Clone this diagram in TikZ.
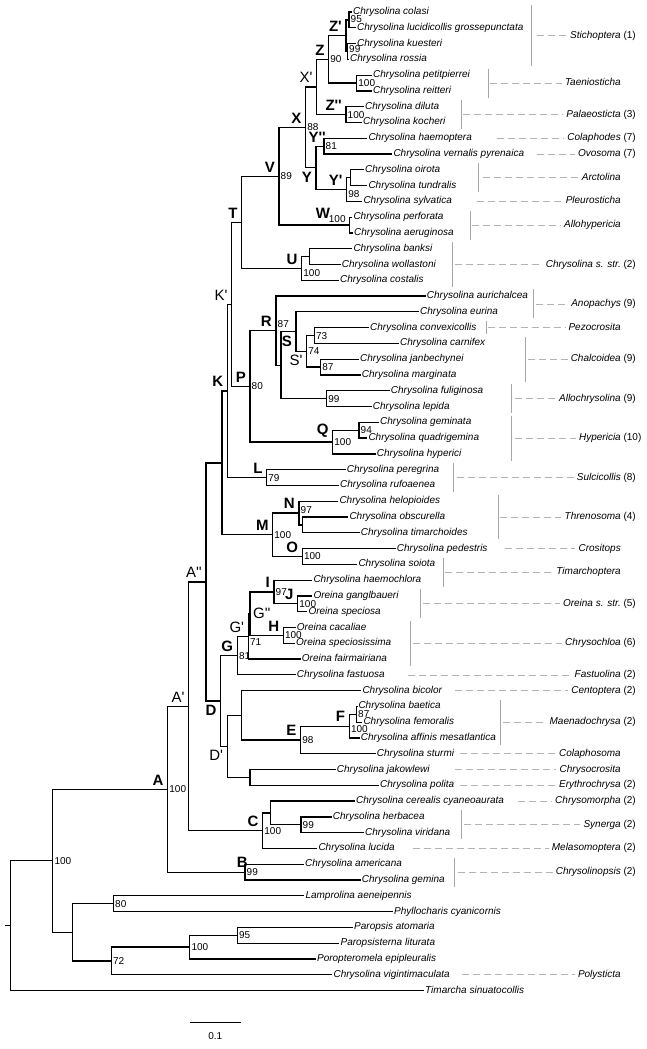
\documentclass[tikz,border=0pt]{standalone}
\usepackage{fontspec}
\setmainfont{Liberation Sans}
\usetikzlibrary{positioning}
\newcommand{\pq}{\textquotesingle}

\begin{document}
\begin{tikzpicture}[x=1pt,y=-15.782pt,
  br/.style={line width=1.25pt},
  taxon/.style={anchor=west,inner xsep=1pt,inner ysep=0pt,text height=7pt,text depth=2pt,
                font=\fontsize{10}{12}\selectfont\itshape},
  boot/.style={anchor=west,inner xsep=1.5pt,inner ysep=0pt,text height=7pt,text depth=0pt,
               font=\fontsize{10}{12}\selectfont},
  clade/.style={anchor=south east,inner sep=0pt,xshift=-4pt,yshift=4pt,
                font=\fontsize{15}{15}\selectfont\bfseries},
  cladeb/.style={clade,anchor=north east,yshift=-8pt},
  prime/.style={clade,font=\fontsize{15}{15}\selectfont},
  primeb/.style={cladeb,font=\fontsize{15}{15}\selectfont},
  grp/.style={anchor=east,inner xsep=0pt,inner ysep=1pt,text height=7pt,text depth=2pt,
              font=\fontsize{10}{12}\selectfont},
  bar/.style={gray!70,line width=0.6pt},
  dsh/.style={gray!60,line width=0.7pt,dash pattern=on 7pt off 4pt}]
  \useasboundingbox (0,0.23964) rectangle (647,66.7075);

  \foreach \i/\x/\nm in {1/353/Chrysolina colasi, 2/357/Chrysolina lucidicollis grossepunctata,
      3/357/Chrysolina kuesteri, 4/350/Chrysolina rossia, 5/373/Chrysolina petitpierrei,
      6/373/Chrysolina reitteri, 7/365/Chrysolina diluta, 8/363/Chrysolina kocheri,
      9/368.3/Chrysolina haemoptera, 10/393.3/Chrysolina vernalis pyrenaica,
      11/365/Chrysolina oirota, 12/368.3/Chrysolina tundralis, 13/363.3/Chrysolina sylvatica,
      14/353.3/Chrysolina perforata, 15/354/Chrysolina aeruginosa, 16/353.3/Chrysolina banksi,
      17/341.7/Chrysolina wollastoni, 18/340/Chrysolina costalis, 19/426.7/Chrysolina aurichalcea,
      20/420/Chrysolina eurina, 21/370/Chrysolina convexicollis, 22/400/Chrysolina carnifex,
      23/360/Chrysolina janbechynei, 24/361.7/Chrysolina marginata, 25/390.7/Chrysolina fuliginosa,
      26/372.7/Chrysolina lepida, 27/380/Chrysolina geminata, 28/368.3/Chrysolina quadrigemina,
      29/376.7/Chrysolina hyperici, 30/346.7/Chrysolina peregrina, 31/340/Chrysolina rufoaenea,
      32/339.3/Chrysolina helopioides, 33/349.3/Chrysolina obscurella,
      34/360.7/Chrysolina timarchoides, 35/396.7/Chrysolina pedestris, 36/358.3/Chrysolina soiota,
      37/313.3/Chrysolina haemochlora, 38/313.3/Oreina ganglbaueri, 39/308.3/Oreina speciosa,
      40/296.7/Oreina cacaliae, 41/296/Oreina speciosissima, 42/301.7/Oreina fairmairiana,
      43/296.7/Chrysolina fastuosa, 44/362.3/Chrysolina bicolor, 45/358.3/Chrysolina baetica,
      46/363.3/Chrysolina femoralis, 47/360.7/Chrysolina affinis mesatlantica,
      48/376.7/Chrysolina sturmi, 49/336.7/Chrysolina jakowlewi, 50/380/Chrysolina polita,
      51/356/Chrysolina cerealis cyaneoaurata, 52/332.7/Chrysolina herbacea,
      53/365/Chrysolina viridana, 54/318.3/Chrysolina lucida, 55/305/Chrysolina americana,
      56/361.7/Chrysolina gemina, 57/305.3/Lamprolina aeneipennis,
      58/394/Phyllocharis cyanicornis, 59/354/Paropsis atomaria, 60/340.4/Paropsisterna liturata,
      61/316.9/Poropteromela epipleuralis, 62/333.4/Chrysolina vigintimaculata,
      63/425/Timarcha sinuatocollis}
    \node[taxon] (t\i) at (\x-1,\i) {\nm};

  \coordinate (n95) at (349,1.5);
  \coordinate (n99) at (347.5,3.5);
  \coordinate (Zp) at (346,2.5);
  \coordinate (n100a) at (356.7,5.5);
  \coordinate (Z) at (328.7,4);
  \coordinate (Zpp) at (346,7.5);
  \coordinate (Xp) at (316.7,5.75);
  \coordinate (Ypp) at (324,9.5);
  \coordinate (n11) at (350.7,11.5);
  \coordinate (Yp) at (346.7,12.25);
  \coordinate (Y) at (316,10.875);
  \coordinate (X) at (305.7,8.3125);
  \coordinate (W) at (349.3,14.5);
  \coordinate (V) at (279,11.406);
  \coordinate (n16) at (309.3,16.5);
  \coordinate (U) at (301.7,17.25);
  \coordinate (T) at (241.7,14.328);
  \coordinate (n73) at (314.3,21.5);
  \coordinate (n87b) at (320.7,23.5);
  \coordinate (Sp) at (306.7,22.5);
  \coordinate (S) at (296,21.25);
  \coordinate (n99b) at (326.7,25.5);
  \coordinate (N1) at (281,23.375);
  \coordinate (R) at (276,21.1875);
  \coordinate (n94) at (359,27.5);
  \coordinate (Q) at (332.7,28.25);
  \coordinate (P) at (250,24.72);
  \coordinate (Kp) at (231.7,19.52);
  \coordinate (L) at (266.7,30.5);
  \coordinate (K) at (227.3,25.01);
  \coordinate (n33) at (302.3,33.5);
  \coordinate (N) at (299,32.75);
  \coordinate (O) at (302.3,35.5);
  \coordinate (M) at (272.7,34.125);
  \coordinate (KM) at (222,29.57);
  \coordinate (J) at (297.7,38.5);
  \coordinate (I) at (274,37.75);
  \coordinate (H) at (283.3,40.5);
  \coordinate (Gpp) at (250,39.125);
  \coordinate (Gp) at (248.3,40.5625);
  \coordinate (G) at (237.3,41.78);
  \coordinate (n87c) at (356.5,45.5);
  \coordinate (F) at (349.3,46.25);
  \coordinate (E) at (300.7,47.125);
  \coordinate (n44) at (241.7,45.5625);
  \coordinate (n49) at (250,49.5);
  \coordinate (Dp) at (227.3,47.53);
  \coordinate (D) at (220.7,44.66);
  \coordinate (App) at (206,37.11);
  \coordinate (n99c) at (301,52.5);
  \coordinate (n51) at (270.7,51.75);
  \coordinate (C) at (262.7,52.875);
  \coordinate (Ap) at (188.8,44.99);
  \coordinate (B) at (245,55.5);
  \coordinate (A) at (167.7,50.25);
  \coordinate (n80) at (113.5,57.5);
  \coordinate (n95b) at (237.3,59.5);
  \coordinate (n100b) at (189.8,60.25);
  \coordinate (n72) at (111.4,61.125);
  \coordinate (nOG) at (72.2,59.31);
  \coordinate (n100r) at (52.8,54.78);
  \coordinate (root) at (10.3,58.89);
  \coordinate (base) at (4.5,58.89);

  \foreach \p/\c in {n95/t1, n95/t2, n99/t3, n99/t4, Zp/n95, Zp/n99, n100a/t5, n100a/t6,
      Z/Zp, Z/n100a, Zpp/t7, Zpp/t8, Xp/Z, Xp/Zpp, Ypp/t9, Ypp/t10, n11/t11, n11/t12,
      Yp/n11, Yp/t13, Y/Ypp, Y/Yp, X/Xp, X/Y, W/t14, W/t15, V/X, V/W, n16/t16, n16/t17,
      U/n16, U/t18, T/V, T/U, n73/t21, n73/t22, n87b/t23, n87b/t24, Sp/n73, Sp/n87b,
      S/t20, S/Sp, n99b/t25, n99b/t26, N1/S, N1/n99b, R/t19, R/N1, n94/t27, n94/t28,
      Q/n94, Q/t29, P/R, P/Q, Kp/T, Kp/P, L/t30, L/t31, K/Kp, K/L, n33/t33, n33/t34,
      N/t32, N/n33, O/t35, O/t36, M/N, M/O, KM/K, KM/M, J/t38, J/t39, I/t37, I/J,
      H/t40, H/t41, Gpp/I, Gpp/H, Gp/Gpp, Gp/t42, G/Gp, G/t43, n87c/t45, n87c/t46,
      F/n87c, F/t47, E/F, E/t48, n44/t44, n44/E, n49/t49, n49/t50, Dp/n44, Dp/n49,
      D/G, D/Dp, App/KM, App/D, n99c/t52, n99c/t53, n51/t51, n51/n99c, C/n51, C/t54,
      Ap/App, Ap/C, B/t55, B/t56, A/Ap, A/B, n80/t57, n80/t58, n95b/t59, n95b/t60,
      n100b/n95b, n100b/t61, n72/n100b, n72/t62, nOG/n80, nOG/n72, n100r/A, n100r/nOG,
      root/n100r, root/t63}
    \draw[br] (\p) |- (\c);
  \draw[br] (base) -- (root);

  \foreach \nd/\bv in {Z/90, n100a/100, Zpp/100, X/88, Ypp/81, V/89,
      n73/73, n87b/87, Sp/74, n99b/99, P/80, n94/94, Q/100, L/79, M/100, O/100, I/97,
      J/100, H/100, G/81, n87c/87, E/98, C/100, n99c/99, B/99, A/100, n100r/100,
      n80/80, n95b/95, n100b/100, n72/72}
    \node[boot] (b\nd) at (\nd) {\bv};
  \node[boot,yshift=0.5pt] (bn95) at (n95) {95};
  \node[boot,yshift=2pt] (bn99) at (n99) {99};
  \node[boot,yshift=-4pt] (bYp) at (Yp) {98};
  \node[boot,yshift=-5pt] (bU) at (U) {100};
  \node[boot,yshift=7pt] (bR) at (R) {87};
  \node[boot,yshift=3pt] (bN) at (N) {97};
  \node[boot,yshift=-6pt] (bGp) at (Gp) {71};
  \node[boot,yshift=-3pt] (bF) at (F) {100};
  \node[boot,anchor=south east,xshift=-2pt,yshift=2pt] (bW) at (W) {100};

  \node[clade] (lA) at (A) {A};
  \node[clade,xshift=7pt] (lB) at (B) {B};
  \node[clade] (lC) at (C) {C};
  \node[cladeb] (lD) at (D) {D};
  \node[clade] (lE) at (E) {E};
  \node[clade] (lF) at (F) {F};
  \node[clade] (lG) at (G) {G};
  \node[clade] (lH) at (H) {H};
  \node[clade] (lI) at (I) {I};
  \node[clade] (lJ) at (J) {J};
  \node[clade] (lK) at (K) {K};
  \node[clade] (lL) at (L) {L};
  \node[clade] (lM) at (M) {M};
  \node[clade] (lN) at (N) {N};
  \node[clade] (lO) at (O) {O};
  \node[clade] (lP) at (P) {P};
  \node[clade] (lQ) at (Q) {Q};
  \node[clade] (lR) at (R) {R};
  \node[cladeb] (lS) at (S) {S};
  \node[clade] (lT) at (T) {T};
  \node[clade] (lU) at (U) {U};
  \node[clade] (lV) at (V) {V};
  \node[clade,xshift=-15pt,yshift=2pt] (lW) at (W) {W};
  \node[clade] (lX) at (X) {X};
  \node[cladeb] (lY) at (Y) {Y};
  \node[clade] (lYp) at (Yp) {Y\pq};
  \node[clade,xshift=6pt,yshift=-1pt] (lYpp) at (Ypp) {Y\pq\pq};
  \node[clade] (lZ) at (Z) {Z};
  \node[clade] (lZp) at (Zp) {Z\pq};
  \node[clade] (lZpp) at (Zpp) {Z\pq\pq};
  \node[prime] (lAp) at (Ap) {A\pq};
  \node[prime] (lApp) at (App) {A\pq\pq};
  \node[primeb] (lDp) at (Dp) {D\pq};
  \node[prime] (lGp) at (Gp) {G\pq};
  \node[anchor=west,inner sep=0pt,xshift=3pt,font=\fontsize{15}{15}\selectfont] (lGpp) at (Gpp) {G\pq\pq};
  \node[prime] (lKp) at (Kp) {K\pq};
  \node[primeb] (lSp) at (Sp) {S\pq};
  \node[prime] (lXp) at (Xp) {X\pq};

  \foreach \fa/\fb/\bx in {1/4/531.7, 5/6/488.3, 7/8/461.7, 11/12/478.3, 14/15/470,
      16/18/452.3, 19/20/533.3, 21/21/486, 22/24/525, 25/26/511.7, 27/29/511.7,
      30/31/453.3, 32/34/498.3, 36/37/443.3, 38/39/420.7, 40/42/410, 45/47/500.7,
      52/53/461.3, 55/56/453.9}
    \draw[bar] (\bx,\fa-0.42) -- (\bx,\fb+0.42);

  \foreach \fa/\fb/\dx/\nm/\cn in {1/4/536.7/Stichoptera/{~(1)}, 5/6/490/Taeniosticha/{},
      7/8/463.3/Palaeosticta/{~(3)}, 9/9/496.7/Colaphodes/{~(7)}, 10/10/536.7/Ovosoma/{~(7)},
      11/12/482.7/Arctolina/{}, 13/13/476.7/Pleurosticha/{}, 14/15/471.7/Allohypericia/{},
      16/18/455/Chrysolina s. str./{~(2)}, 19/20/536/Anopachys/{~(9)},
      21/21/488.3/Pezocrosita/{}, 22/24/528.3/Chalcoidea/{~(9)},
      25/26/515/Allochrysolina/{~(9)}, 27/29/515/Hypericia/{~(10)},
      30/31/456.7/Sulcicollis/{~(8)}, 32/34/500/Threnosoma/{~(4)}, 35/35/505/Crositops/{},
      36/37/445/Timarchoptera/{}, 38/39/423.3/Oreina s. str./{~(5)},
      40/42/413.3/Chrysochloa/{~(6)}, 43/43/408.3/Fastuolina/{~(2)},
      44/44/455/Centoptera/{~(2)}, 45/47/503.3/Maenadochrysa/{~(2)},
      48/48/460/Colaphosoma/{}, 49/49/455/Chrysocrosita/{}, 50/50/460/Erythrochrysa/{~(2)},
      51/51/518.3/Chrysomorpha/{~(2)}, 52/53/464/Synerga/{~(2)},
      54/54/412.6/Melasomoptera/{~(2)}, 55/56/458/Chrysolinopsis/{~(2)},
      62/62/462/Polysticta/{}}
  {
    \node[grp] (g\fa) at (621,{(\fa+\fb)/2}) {\textit{\nm}\rlap{\cn}};
    \draw[dsh] (\dx,{(\fa+\fb)/2}) -- ([xshift=-3pt]g\fa.west);
  }

  \coordinate (sb1) at (189.8,65.04);
  \coordinate (sb2) at (240.6,65.04);
  \draw[br] (sb1) -- (sb2);
  \node[boot,anchor=center] (sbl) at (215.2,65.88) {0.1};
\end{tikzpicture}
\end{document}
